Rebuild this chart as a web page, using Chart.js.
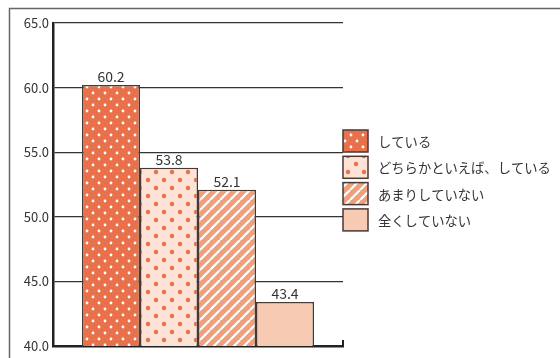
<!DOCTYPE html>
<html>
<head>
<meta charset="utf-8">
<script src="https://cdn.jsdelivr.net/npm/chart.js@4.4.1/dist/chart.umd.min.js"></script>
<style>
  html, body { margin: 0; padding: 0; background: #fff; }
  #wrap { width: 560px; height: 358px; }
</style>
</head>
<body>
<div id="wrap"><canvas id="c" width="560" height="358"></canvas></div>
<script>
// データ
const categories = [''];
const seriesNames = ['している', 'どちらかといえば、している', 'あまりしていない', '全くしていない'];
const seriesValues = [[60.2], [53.8], [52.1], [43.4]];
const yTicks = [40, 45, 50, 55, 60, 65];

const FONT = '"Noto Sans CJK JP", "Noto Sans", sans-serif';
const TEXT = '#333';

// 塗りパターンを作る
function dotPattern(bg, dot, size, r) {
    const c = document.createElement('canvas');
    c.width = size; c.height = size;
    const g = c.getContext('2d');
    g.fillStyle = bg;
    g.fillRect(0, 0, size, size);
    g.fillStyle = dot;
    [[size / 4, size / 4], [size * 3 / 4, size * 3 / 4]].forEach(([x, y]) => {
        g.beginPath();
        g.arc(x, y, r, 0, Math.PI * 2);
        g.fill();
    });
    return g.createPattern(c, 'repeat');
}

function stripePattern(bg, line, size, w) {
    const c = document.createElement('canvas');
    c.width = size; c.height = size;
    const g = c.getContext('2d');
    g.fillStyle = bg;
    g.fillRect(0, 0, size, size);
    g.strokeStyle = line;
    g.lineWidth = w;
    g.beginPath();
    for (let k = -1; k <= 1; k++) {
        g.moveTo(k * size, size);
        g.lineTo(k * size + size, 0);
    }
    g.stroke();
    return g.createPattern(c, 'repeat');
}

const fills = [
    dotPattern('#E8704A', '#ffffff', 12, 1.4),
    dotPattern('#FDE2D6', '#E8704A', 16, 2.2),
    stripePattern('#EFA07B', '#ffffff', 10, 2.2),
    '#F7CBB3'
];
const edge = '#4a3833';

// 外枠・凡例・数値ラベル
const decor = {
    id: 'decor',
    beforeDraw(chart) {
        const ctx = chart.ctx;
        ctx.save();
        ctx.strokeStyle = '#666';
        ctx.lineWidth = 1.5;
        ctx.beginPath();
        ctx.moveTo(9.5, 358);
        ctx.lineTo(9.5, 8.5);
        ctx.lineTo(560, 8.5);
        ctx.stroke();
        ctx.restore();
    },
    afterDraw(chart) {
        const ctx = chart.ctx;
        const area = chart.chartArea;
        ctx.save();

        // 右端の小さな目盛り
        ctx.strokeStyle = '#222';
        ctx.lineWidth = 2;
        ctx.beginPath();
        ctx.moveTo(area.right, area.bottom + 1);
        ctx.lineTo(area.right, area.bottom - 6);
        ctx.stroke();

        // 数値ラベル
        ctx.font = '14px ' + FONT;
        ctx.fillStyle = TEXT;
        ctx.textAlign = 'center';
        ctx.textBaseline = 'bottom';
        chart.data.datasets.forEach((ds, i) => {
            chart.getDatasetMeta(i).data.forEach((bar, j) => {
                ctx.fillText(ds.data[j].toFixed(1), bar.x, bar.y - 1);
            });
        });

        // 凡例
        const bx = area.right, bw = 25, bh = 22;
        ctx.font = '13.3px ' + FONT;
        ctx.textAlign = 'left';
        ctx.textBaseline = 'middle';
        chart.data.datasets.forEach((ds, i) => {
            const by = 130 + i * 26.3;
            ctx.fillStyle = ds.backgroundColor;
            ctx.fillRect(bx, by, bw, bh);
            ctx.strokeStyle = edge;
            ctx.lineWidth = 1.5;
            ctx.strokeRect(bx, by, bw, bh);
            ctx.fillStyle = TEXT;
            ctx.fillText(ds.label, bx + 35, by + bh / 2 + 1);
        });
        ctx.restore();
    }
};

new Chart(document.getElementById('c'), {
    type: 'bar',
    data: {
        labels: categories,
        datasets: seriesNames.map((name, i) => ({
            label: name,
            data: seriesValues[i],
            backgroundColor: fills[i],
            borderColor: edge,
            borderWidth: 1.5,
            borderSkipped: 'bottom',
            categoryPercentage: 0.8,
            barPercentage: 1.0
        }))
    },
    options: {
        responsive: false,
        animation: false,
        layout: { padding: { left: 0, top: 23, right: 217, bottom: 4 } },
        plugins: {
            legend: { display: false },
            tooltip: { enabled: false }
        },
        scales: {
            x: {
                grid: { display: false },
                ticks: { display: false },
                border: { display: true, color: '#222', width: 2.5 }
            },
            y: {
                min: yTicks[0],
                max: yTicks[yTicks.length - 1],
                afterBuildTicks: (scale) => {
                    scale.ticks = yTicks.map(v => ({ value: v }));
                },
                afterFit: (scale) => { scale.width = 53; },
                grid: { color: '#333', lineWidth: 1.3, drawTicks: false },
                border: { display: true, color: '#222', width: 2.5 },
                ticks: {
                    padding: 4,
                    color: TEXT,
                    font: { size: 13, family: FONT },
                    callback: (v) => Number(v).toFixed(1)
                }
            }
        }
    },
    plugins: [decor]
});
</script>
</body>
</html>
